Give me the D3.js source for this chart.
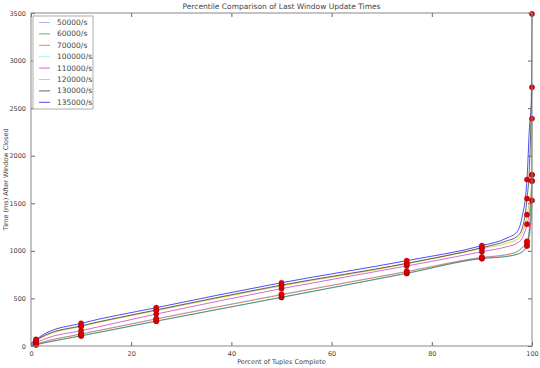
<!DOCTYPE html>
<html>
<head>
<meta charset="utf-8">
<script src="https://cdn.jsdelivr.net/npm/d3@7"></script>
<style>
  body { margin: 0; background: #fff; }
  text { font-family: "DejaVu Sans", sans-serif; fill: #444; }
</style>
</head>
<body>
<div id="chart"></div>
<script>
// percentiles the curves are read at
let percents = [0, 1, 3, 10, 25, 50, 75, 90, 95, 97, 98, 99, 99.5, 99.9, 100];
// percentiles that get a red marker
let markerPercents = [1, 10, 25, 50, 75, 90, 99, 100];

let rates = ["50000/s", "60000/s", "70000/s", "100000/s", "110000/s", "120000/s", "130000/s", "135000/s"];
let colors = ["#0000ff", "#008000", "#ff0000", "#00bfbf", "#bf00bf", "#bfbf00", "#000000", "#0000ff"];
let alphas = [0.3, 0.6, 0.55, 0.3, 0.6, 0.65, 0.6, 0.7];

let s50 = [3, 12, 35, 105, 260, 510, 762, 918, 940, 962, 985, 1050, 1150, 1400, 1800];
let s60 = [5, 14, 38, 108, 262, 513, 765, 921, 943, 965, 990, 1060, 1250, 1700, 2390];
let s70 = [8, 20, 50, 125, 284, 539, 781, 930, 960, 990, 1030, 1090, 1200, 1400, 1530];
let s100 = [10, 22, 53, 128, 288, 544, 786, 935, 965, 995, 1035, 1100, 1250, 1500, 1735];
let s110 = [15, 35, 80, 161, 336, 603, 841, 991, 1044, 1080, 1130, 1280, 1420, 1650, 1800];
let s120 = [20, 55, 110, 205, 372, 632, 862, 1025, 1080, 1120, 1180, 1380, 1520, 1650, 1735];
let s130 = [22, 60, 118, 212, 379, 640, 869, 1034, 1105, 1150, 1230, 1550, 1900, 2720, 3490];
let s135 = [30, 70, 135, 238, 403, 665, 897, 1055, 1135, 1200, 1350, 1750, 2300, 2550, 2720];

let series = [s50, s60, s70, s100, s110, s120, s130, s135];

let xTicks = [0, 20, 40, 60, 80, 100];
let yTicks = [0, 500, 1000, 1500, 2000, 2500, 3000, 3500];

let margin = {top: 13, right: 8, bottom: 22, left: 31};
let width = 540 - margin.left - margin.right,
    height = 368 - margin.top - margin.bottom;

let svg = d3.select("#chart").append("svg")
    .attr("width", 540)
    .attr("height", 368)
    .append("g")
    .attr("transform", "translate(" + margin.left + "," + margin.top + ")");

let x = d3.scaleLinear().domain([0, 100]).range([0, width]);
let y = d3.scaleLinear().domain([0, 3500]).range([height, 0]);

let plot = svg.append("g");
plot.append("clipPath").attr("id", "clip")
    .append("rect").attr("x", -1).attr("y", -1).attr("width", width + 2).attr("height", height + 2);

let line = d3.line()
    .x(function (d, i) { return x(percents[i]); })
    .y(function (d) { return y(d); })
    .curve(d3.curveMonotoneX);

plot.append("g").attr("clip-path", "url(#clip)")
    .selectAll("path")
    .data(series)
    .enter().append("path")
    .attr("d", line)
    .attr("fill", "none")
    .attr("stroke", function (d, i) { return colors[i]; })
    .attr("stroke-opacity", function (d, i) { return alphas[i]; })
    .attr("stroke-width", 1);

// red markers at the chosen percentiles
let dots = [];
series.forEach(function (s) {
    markerPercents.forEach(function (p) {
        dots.push({p: p, v: s[percents.indexOf(p)]});
    });
});
plot.append("g")
    .selectAll("circle")
    .data(dots)
    .enter().append("circle")
    .attr("cx", function (d) { return x(d.p); })
    .attr("cy", function (d) { return y(d.v); })
    .attr("r", 2.6)
    .attr("fill", "#e00000")
    .attr("stroke", "#900")
    .attr("stroke-width", 0.4);

// axes, ticks pointing inward on all four sides
function styleAxis(g) {
    g.select(".domain").remove();
    g.selectAll("line").attr("stroke", "#666");
    g.selectAll("text").style("font-size", "6.5px").attr("fill", "#444");
}
svg.append("g").attr("transform", "translate(0," + height + ")")
    .call(d3.axisBottom(x).tickValues(xTicks).tickSize(-4).tickPadding(5).tickFormat(d3.format("d")))
    .call(styleAxis);
svg.append("g")
    .call(d3.axisLeft(y).tickValues(yTicks).tickSize(-4).tickPadding(5).tickFormat(d3.format("d")))
    .call(styleAxis);
svg.append("g")
    .call(d3.axisTop(x).tickValues(xTicks).tickSize(-4).tickFormat(""))
    .call(styleAxis);
svg.append("g").attr("transform", "translate(" + width + ",0)")
    .call(d3.axisRight(y).tickValues(yTicks).tickSize(-4).tickFormat(""))
    .call(styleAxis);

svg.append("rect")
    .attr("width", width).attr("height", height)
    .attr("fill", "none").attr("stroke", "#888").attr("stroke-width", 1);

// labels
svg.append("text")
    .attr("x", width / 2).attr("y", -4)
    .attr("text-anchor", "middle")
    .style("font-size", "7.5px").attr("fill", "#222")
    .text("Percentile Comparison of Last Window Update Times");
svg.append("text")
    .attr("x", width / 2).attr("y", height + 18)
    .attr("text-anchor", "middle")
    .style("font-size", "6.5px")
    .text("Percent of Tuples Complete");
svg.append("text")
    .attr("transform", "translate(-23," + (height / 2) + ") rotate(-90)")
    .attr("text-anchor", "middle")
    .style("font-size", "6.5px")
    .text("Time (ms) After Window Closed");

// legend
let legend = svg.append("g").attr("transform", "translate(2,3)");
legend.append("rect")
    .attr("width", 60).attr("height", 93)
    .attr("fill", "#fff").attr("stroke", "#999").attr("stroke-width", 0.8);
let item = legend.selectAll("g.item")
    .data(rates)
    .enter().append("g")
    .attr("class", "item")
    .attr("transform", function (d, i) { return "translate(0," + (6.5 + i * 11.4) + ")"; });
item.append("line")
    .attr("x1", 6).attr("x2", 17)
    .attr("stroke", function (d, i) { return colors[i]; })
    .attr("stroke-opacity", function (d, i) { return alphas[i]; })
    .attr("stroke-width", 1);
item.append("text")
    .attr("x", 24).attr("y", 2.5)
    .style("font-size", "7.5px").attr("fill", "#333")
    .text(function (d) { return d; });
</script>
</body>
</html>
